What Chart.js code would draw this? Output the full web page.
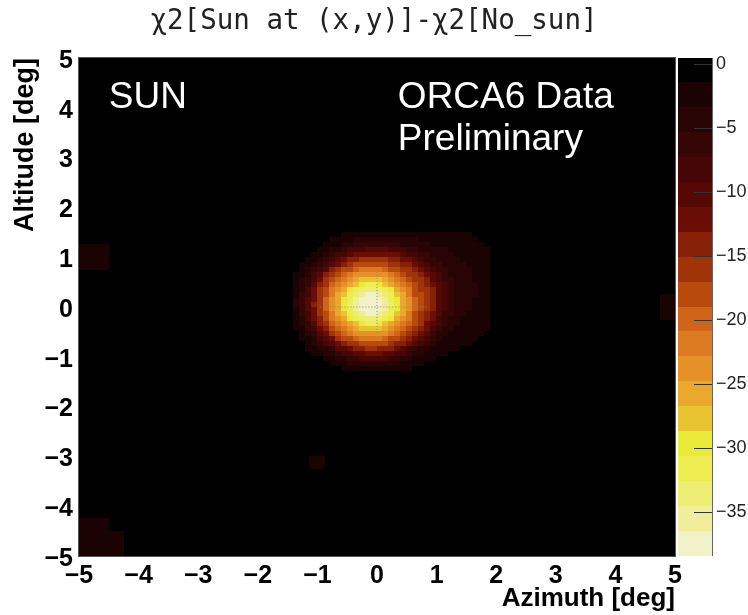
<!DOCTYPE html>
<html>
<head>
<meta charset="utf-8">
<script src="https://cdn.jsdelivr.net/npm/chart.js@4.4.0/dist/chart.umd.min.js"></script>
<style>
  html, body { margin: 0; padding: 0; background: #fff; }
  #wrap { width: 748px; height: 615px; }
</style>
</head>
<body>
<div id="wrap"><canvas id="chart"></canvas></div>
<script>
// axis ticks
const azTicks = [-5, -4, -3, -2, -1, 0, 1, 2, 3, 4, 5];
const altTicks = [-5, -4, -3, -2, -1, 0, 1, 2, 3, 4, 5];
const zTicks = [0, -5, -10, -15, -20, -25, -30, -35];
const zMin = -38.45, zMax = 0.45;

// sun position marker (dotted cross)
const markerAz = [-0.95, 0.85];
const markerAlt = [-0.52, 0.8];

// faint spots away from the sun, 0.25 deg bins (bin centres)
const spotBin = 0.25;
const spotAz  = [-4.875, -4.875, -4.625, -4.625, -4.875, -4.625, -4.875, -4.625, -4.375, -4.375, -4.875, -4.625, 4.875, 4.875, -1.0];
const spotAlt = [1.125, 0.875, 1.125, 0.875, -4.875, -4.875, -4.625, -4.625, -4.875, -4.625, -4.375, -4.375, 0.125, -0.125, -3.125];
const spotVal = [-3, -3, -2, -2, -3, -3, -3, -3, -2, -2, -2, -2, -2, -2, -2];

// map around the sun, 0.1 deg bins, az -1.5..2.3, rows from alt=1.7 downwards
const fineAzStart = -1.5, fineAltTop = 1.7, fineBin = 0.1;
const chi2Fine = [
  [0,0,0,0,0,0,-1,-1,-1,-1,-1,-1,-1,-1,-1,-1,-1,-1,-1,-1,-1,-1,-1,-1,-1,-1,-1,-1,-1,-1,-1,-1,-1,-1,-1,-1,0,0],
  [0,0,0,0,0,-1,-1,-1,-1,-1,-1,-1,-1,-1,-1,-1,-1,-1,-1,-1,-1,-1,-1,-1,-1,-1,-1,-1,-1,-1,-1,-1,-1,-1,-1,-1,-1,0],
  [0,0,0,0,-1,-1,-1,-1,-1,-2,-2,-2,-3,-3,-3,-3,-3,-3,-3,-3,-3,-3,-3,-3,-3,-2,-2,-2,-2,-2,-2,-1,-1,-1,-1,-1,-1,-1],
  [0,0,0,0,-1,-1,-1,-2,-2,-3,-3,-4,-4,-4,-4,-5,-5,-4,-4,-4,-4,-4,-3,-3,-3,-3,-3,-2,-2,-2,-2,-2,-1,-1,-1,-1,-1,-1],
  [0,0,0,-1,-1,-1,-2,-3,-3,-4,-5,-6,-6,-7,-7,-7,-7,-6,-6,-5,-5,-5,-4,-4,-3,-3,-3,-3,-3,-2,-2,-2,-2,-1,-1,-1,-1,-1],
  [0,0,-1,-1,-1,-2,-3,-4,-5,-6,-8,-9,-9,-10,-10,-10,-10,-9,-8,-8,-7,-6,-5,-5,-4,-4,-4,-3,-3,-3,-2,-2,-2,-2,-1,-1,-1,-1],
  [0,0,-1,-1,-2,-3,-4,-6,-8,-9,-11,-12,-13,-13,-13,-13,-13,-12,-12,-11,-9,-8,-7,-6,-5,-4,-4,-4,-3,-3,-3,-2,-2,-2,-1,-1,-1,-1],
  [0,-1,-1,-2,-3,-4,-6,-8,-11,-12,-14,-15,-16,-16,-16,-16,-16,-15,-14,-13,-12,-10,-8,-7,-6,-5,-5,-4,-4,-3,-3,-3,-2,-2,-1,-1,-1,-1],
  [-1,-1,-2,-3,-4,-6,-9,-11,-13,-15,-17,-18,-18,-18,-18,-18,-18,-17,-16,-15,-14,-13,-11,-9,-7,-6,-5,-5,-4,-4,-3,-3,-3,-2,-1,-1,-1,-1],
  [-1,-1,-2,-4,-6,-8,-11,-14,-16,-18,-19,-20,-21,-21,-21,-21,-20,-19,-18,-17,-16,-15,-13,-11,-9,-7,-6,-5,-4,-4,-4,-3,-3,-2,-1,-1,-1,-1],
  [-1,-2,-3,-5,-8,-11,-14,-16,-18,-20,-22,-23,-24,-24,-24,-24,-23,-22,-20,-18,-17,-16,-15,-13,-10,-8,-7,-5,-5,-4,-4,-3,-3,-2,-1,-1,-1,-1],
  [-1,-2,-4,-6,-9,-13,-16,-18,-20,-22,-24,-26,-27,-27,-27,-27,-26,-24,-22,-20,-18,-17,-16,-14,-11,-9,-7,-6,-5,-4,-4,-3,-3,-2,-1,-1,-1,-1],
  [-1,-3,-4,-7,-11,-14,-17,-20,-22,-24,-26,-28,-30,-31,-31,-30,-28,-26,-24,-22,-20,-18,-17,-15,-13,-10,-8,-6,-5,-4,-4,-4,-3,-2,-1,-1,-1,-1],
  [-1,-3,-5,-8,-12,-16,-18,-21,-24,-26,-29,-31,-33,-34,-34,-33,-31,-29,-26,-24,-21,-18,-17,-16,-14,-11,-8,-7,-5,-5,-4,-4,-3,-2,-1,-1,-1,-1],
  [-1,-3,-6,-9,-13,-16,-19,-22,-25,-28,-31,-34,-36,-37,-37,-36,-34,-31,-28,-25,-22,-19,-18,-16,-14,-11,-8,-7,-5,-5,-4,-4,-3,-2,-1,-1,-1,-1],
  [-1,-4,-6,-10,-13,-17,-20,-23,-26,-29,-32,-35,-37,-38,-38,-37,-35,-32,-29,-26,-23,-20,-18,-16,-14,-11,-9,-7,-5,-4,-4,-3,-3,-2,-1,-1,-1,-1],
  [-1,-4,-6,-10,-14,-17,-20,-23,-26,-29,-33,-36,-37,-38,-38,-37,-36,-33,-29,-26,-23,-20,-18,-16,-14,-11,-8,-7,-5,-4,-4,-3,-3,-2,-1,-1,-1,-1],
  [-1,-3,-6,-10,-13,-17,-20,-23,-26,-29,-32,-35,-37,-38,-38,-37,-35,-32,-29,-26,-23,-20,-18,-16,-14,-11,-8,-6,-5,-4,-4,-3,-3,-2,-1,-1,-1,-1],
  [-1,-3,-6,-9,-13,-16,-19,-22,-25,-28,-31,-34,-36,-37,-37,-36,-34,-31,-28,-25,-22,-19,-17,-15,-13,-10,-7,-6,-5,-4,-3,-3,-3,-2,-1,-1,-1,-1],
  [-1,-3,-5,-8,-12,-15,-18,-21,-24,-26,-29,-31,-33,-34,-34,-33,-31,-29,-26,-24,-21,-18,-17,-15,-12,-9,-7,-5,-4,-3,-3,-3,-2,-2,-1,-1,-1,-1],
  [-1,-2,-4,-7,-10,-14,-17,-20,-22,-24,-26,-28,-30,-31,-31,-30,-28,-26,-24,-22,-20,-18,-16,-13,-11,-8,-6,-5,-4,-3,-3,-2,-2,-2,-1,-1,-1,-1],
  [-1,-2,-3,-6,-9,-12,-15,-18,-20,-22,-24,-26,-27,-27,-27,-27,-26,-24,-22,-20,-18,-16,-14,-12,-9,-7,-5,-4,-3,-3,-2,-2,-2,-2,-1,-1,-1,-1],
  [-1,-1,-3,-4,-7,-10,-13,-16,-18,-20,-22,-23,-24,-24,-24,-24,-23,-22,-20,-18,-17,-15,-12,-10,-7,-5,-4,-3,-3,-2,-2,-2,-2,-1,-1,-1,-1,-1],
  [0,-1,-2,-3,-5,-8,-11,-13,-16,-18,-19,-20,-21,-21,-21,-21,-20,-19,-18,-16,-14,-12,-10,-8,-6,-4,-3,-3,-2,-2,-2,-2,-1,-1,-1,-1,-1,-1],
  [0,-1,-1,-2,-4,-6,-8,-10,-13,-15,-16,-17,-18,-18,-18,-18,-18,-16,-15,-14,-12,-10,-8,-6,-4,-3,-3,-2,-2,-2,-2,-1,-1,-1,-1,-1,-1,-1],
  [0,0,-1,-2,-2,-4,-5,-7,-10,-11,-13,-14,-15,-16,-16,-15,-14,-14,-12,-11,-9,-7,-5,-4,-3,-3,-2,-2,-2,-1,-1,-1,-1,-1,-1,-1,-1,0],
  [0,0,0,-1,-2,-2,-4,-5,-7,-8,-9,-11,-11,-12,-12,-12,-11,-10,-9,-8,-6,-5,-4,-3,-2,-2,-2,-1,-1,-1,-1,-1,-1,-1,-1,-1,0,0],
  [0,0,0,0,-1,-1,-2,-3,-4,-5,-6,-7,-8,-8,-8,-8,-8,-7,-6,-5,-4,-3,-3,-2,-2,-1,-1,-1,-1,-1,-1,-1,-1,-1,0,0,0,0],
  [0,0,0,0,0,-1,-1,-2,-2,-3,-4,-4,-5,-5,-5,-5,-5,-4,-4,-3,-3,-2,-2,-1,-1,-1,-1,-1,-1,-1,-1,-1,-1,0,0,0,0,0],
  [0,0,0,0,0,0,-1,-1,-1,-2,-2,-2,-3,-3,-3,-3,-3,-2,-2,-2,-2,-1,-1,-1,-1,-1,-1,-1,-1,-1,-1,0,0,0,0,0,0,0],
  [0,0,0,0,0,0,0,0,-1,-1,-1,-1,-1,-1,-1,-1,-1,-1,-1,-1,-1,-1,-1,-1,-1,-1,-1,-1,-1,0,0,0,0,0,0,0,0,0]
];

// 20-step colour palette (black body), from zMax down to zMin
const palette = ['#000000','#1c0303','#280404','#360505','#460606','#560805','#6a0e05','#862006','#a03408','#b84a0e',
                 '#d06418','#dc7a20','#e69028','#eaa82c','#e8c430','#eaea38','#eeee52','#eeee72','#f0ee9a','#f2f2ca'];
const bandW = (zMax - zMin) / palette.length;

function colorFor(v) {
    let k = Math.floor((zMax - v) / bandW);
    k = Math.max(0, Math.min(palette.length - 1, k));
    return palette[k];
}

function fmt(v) {
    return String(v).replace('-', '\u2212');
}

function fillCell(ctx, xs, ys, az0, az1, alt0, alt1, v) {
    const xa = Math.floor(xs.getPixelForValue(az0));
    const xb = Math.ceil(xs.getPixelForValue(az1));
    const ya = Math.floor(ys.getPixelForValue(alt1));
    const yb = Math.ceil(ys.getPixelForValue(alt0));
    ctx.fillStyle = colorFor(v);
    ctx.fillRect(xa, ya, xb - xa, yb - ya);
}

const heatmap = {
    id: 'heatmap',
    beforeDatasetsDraw(chart) {
        const {ctx, chartArea: a, scales: {x, y}} = chart;
        ctx.save();
        ctx.beginPath();
        ctx.rect(a.left, a.top, a.right - a.left, a.bottom - a.top);
        ctx.clip();
        // frame fill = empty bins
        ctx.fillStyle = palette[0];
        ctx.fillRect(a.left, a.top, a.right - a.left, a.bottom - a.top);
        spotVal.forEach((v, i) => {
            fillCell(ctx, x, y, spotAz[i] - spotBin / 2, spotAz[i] + spotBin / 2,
                     spotAlt[i] - spotBin / 2, spotAlt[i] + spotBin / 2, v);
        });
        chi2Fine.forEach((row, r) => {
            row.forEach((v, c) => {
                const az0 = fineAzStart + c * fineBin;
                const alt1 = fineAltTop - r * fineBin;
                fillCell(ctx, x, y, az0, az0 + fineBin, alt1 - fineBin, alt1, v);
            });
        });
        ctx.restore();
    },
    afterDatasetsDraw(chart) {
        const {ctx, chartArea: a, scales: {x, y, z}} = chart;
        ctx.save();
        // frame
        ctx.strokeStyle = '#555';
        ctx.lineWidth = 1;
        ctx.strokeRect(a.left - 0.5, a.top - 0.5, a.right - a.left + 1, a.bottom - a.top + 1);

        // labels inside the frame
        ctx.fillStyle = '#fff';
        ctx.font = "37px 'Liberation Sans', Arial, sans-serif";
        ctx.textAlign = 'left';
        ctx.textBaseline = 'alphabetic';
        ctx.fillText('SUN', x.getPixelForValue(-4.5), y.getPixelForValue(4.0));
        ctx.fillText('ORCA6 Data', x.getPixelForValue(0.35), y.getPixelForValue(4.0));
        ctx.fillText('Preliminary', x.getPixelForValue(0.35), y.getPixelForValue(3.16));

        // colour bar
        const x0 = z.left + 3, x1 = z.left + 37;
        palette.forEach((col, k) => {
            const ya = Math.floor(z.getPixelForValue(zMax - k * bandW));
            const yb = Math.ceil(z.getPixelForValue(zMax - (k + 1) * bandW));
            ctx.fillStyle = col;
            ctx.fillRect(x0, ya, x1 - x0, yb - ya);
        });
        ctx.strokeStyle = '#333';
        zTicks.forEach(t => {
            const py = Math.round(z.getPixelForValue(t)) + 0.5;
            ctx.beginPath();
            ctx.moveTo(x1 - 18, py);
            ctx.lineTo(x1, py);
            ctx.stroke();
        });
        ctx.strokeStyle = '#666';
        ctx.beginPath();
        ctx.moveTo(x1 + 0.5, z.top);
        ctx.lineTo(x1 + 0.5, z.bottom);
        ctx.stroke();
        ctx.restore();
    }
};

const tickFont = { family: "'Liberation Sans', Arial, sans-serif", weight: 'bold', size: 25 };

new Chart(document.getElementById('chart'), {
    type: 'scatter',
    data: {
        datasets: [
            {
                data: markerAz.map(v => ({ x: v, y: 0 })),
                showLine: true, pointRadius: 0,
                borderColor: '#8a8a8a', borderWidth: 1, borderDash: [1, 2]
            },
            {
                data: markerAlt.map(v => ({ x: 0, y: v })),
                showLine: true, pointRadius: 0,
                borderColor: '#8a8a8a', borderWidth: 1, borderDash: [1, 2]
            }
        ]
    },
    options: {
        responsive: true,
        maintainAspectRatio: false,
        animation: false,
        events: [],
        layout: { padding: 0 },
        plugins: {
            legend: { display: false },
            tooltip: { enabled: false },
            title: {
                display: true,
                text: '\u03c72[Sun at (x,y)]-\u03c72[No_sun]',
                color: '#222',
                font: { family: "'DejaVu Sans Mono', monospace", size: 27.5, weight: 'normal' },
                padding: { top: 5, bottom: 20 }
            }
        },
        scales: {
            x: {
                type: 'linear', min: -5, max: 5,
                afterBuildTicks: s => { s.ticks = azTicks.map(v => ({ value: v })); },
                afterFit: s => { s.height = 59; },
                grid: { display: false, drawTicks: false },
                border: { display: false },
                ticks: { font: tickFont, color: '#000', padding: 5, maxRotation: 0, callback: fmt },
                title: { display: true, text: 'Azimuth [deg]', align: 'end', color: '#000',
                         font: { family: "'Liberation Sans', Arial, sans-serif", weight: 'bold', size: 26 },
                         padding: { top: 0, bottom: 1 } }
            },
            y: {
                type: 'linear', min: -5, max: 5,
                afterBuildTicks: s => { s.ticks = altTicks.map(v => ({ value: v })); },
                afterFit: s => { s.width = 79; },
                grid: { display: false, drawTicks: false },
                border: { display: false },
                ticks: { font: tickFont, color: '#000', padding: 6, labelOffset: 3, callback: fmt },
                title: { display: true, text: 'Altitude [deg]', align: 'end', color: '#000',
                         font: { family: "'Liberation Sans', Arial, sans-serif", weight: 'bold', size: 27 },
                         padding: { top: 9, bottom: 0 } }
            },
            z: {
                axis: 'y', type: 'linear', position: 'right', min: zMin, max: zMax,
                afterBuildTicks: s => { s.ticks = zTicks.map(v => ({ value: v })); },
                afterFit: s => { s.width = 73; },
                grid: { display: false, drawTicks: false },
                border: { display: false },
                ticks: { font: { family: "'Liberation Sans', Arial, sans-serif", size: 18 },
                         color: '#222', padding: 41, callback: fmt }
            }
        }
    },
    plugins: [heatmap]
});
</script>
</body>
</html>
